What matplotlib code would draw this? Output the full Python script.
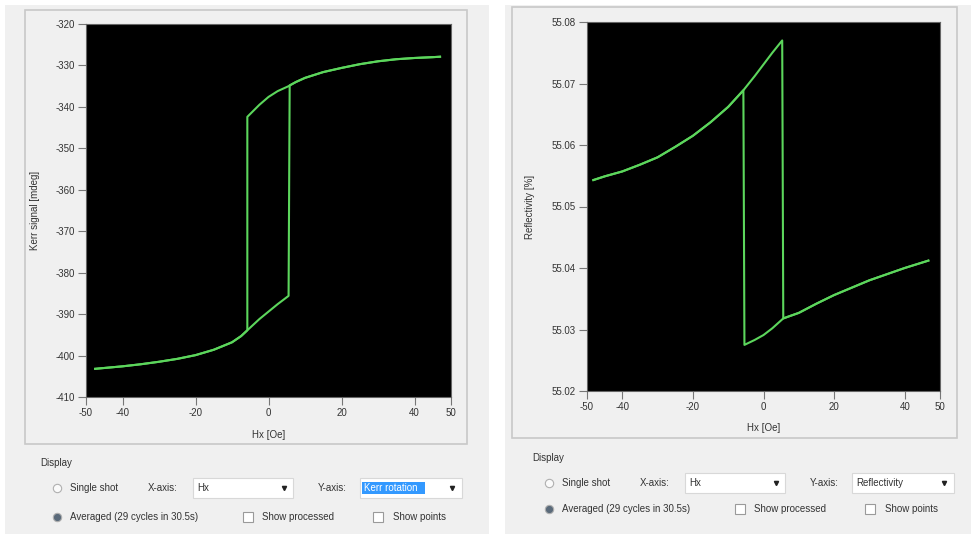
import numpy as np
import matplotlib.pyplot as plt
from matplotlib.patches import Rectangle

plt.rcParams['font.family'] = ['Liberation Sans', 'DejaVu Sans']
plt.rcParams['axes.unicode_minus'] = False

# Kerr loop, field going up then field going down
kerr_up_h = [-47.5, -45, -40, -35, -30, -25, -20, -15, -10, -7.5, -5.8, -2.5, 0, 2.5, 5.5,
             5.8, 7.5, 10, 15, 20, 25, 30, 35, 40, 45, 47.0]
kerr_up_val = [-403.2, -403.0, -402.6, -402.1, -401.5, -400.8, -399.9, -398.6, -396.8, -395.3,
               -393.9, -391.2, -389.4, -387.6, -385.6, -334.8, -334.0, -333.0, -331.6, -330.6,
               -329.7, -329.0, -328.5, -328.2, -328.0, -327.9]
kerr_down_h = [47.0, 45, 40, 35, 30, 25, 20, 15, 10, 7.5, 5.5, 2.5, 0, -2.5, -5.8,
               -5.8, -7.5, -10, -15, -20, -25, -30, -35, -40, -45, -47.5]
kerr_down_val = [-327.9, -328.0, -328.2, -328.5, -329.0, -329.7, -330.6, -331.6, -333.0, -334.0,
                 -335.0, -336.2, -337.6, -339.5, -342.4, -393.9, -395.3, -396.8, -398.6, -399.9,
                 -400.8, -401.5, -402.1, -402.6, -403.0, -403.2]

# reflectivity loop
refl_up_h = [-48.2, -45, -40, -35, -30, -25, -20, -15, -10, -5.7, -2.5, 0, 2.5, 5.3,
             5.6, 7.5, 10, 15, 20, 25, 30, 35, 40, 46.7]
refl_up_val = [55.0543, 55.0549, 55.0557, 55.0568, 55.0580, 55.0597, 55.0615, 55.0637, 55.0662,
               55.0689, 55.0712, 55.0731, 55.0750, 55.0770, 55.0318, 55.0322, 55.0327, 55.0342,
               55.0356, 55.0368, 55.0380, 55.0390, 55.0400, 55.0412]
refl_down_h = [46.7, 40, 35, 30, 25, 20, 15, 10, 5.6, 2.5, 0, -2.5, -5.4,
               -5.7, -10, -15, -20, -25, -30, -35, -40, -45, -48.2]
refl_down_val = [55.0412, 55.0400, 55.0390, 55.0380, 55.0368, 55.0356, 55.0342, 55.0327, 55.0318,
                 55.0302, 55.0291, 55.0283, 55.0275, 55.0689, 55.0662, 55.0637, 55.0615, 55.0597,
                 55.0580, 55.0568, 55.0557, 55.0549, 55.0543]

x_ticks = [-50, -40, -20, 0, 20, 40, 50]
kerr_ticks = list(range(-320, -411, -10))
refl_ticks = [55.02, 55.03, 55.04, 55.05, 55.06, 55.07, 55.08]

W, H = 971, 534
fig = plt.figure(figsize=(W / 100, H / 100), dpi=100, facecolor='white')

# background "window" drawn in pixel coordinates
bg = fig.add_axes([0, 0, 1, 1], zorder=0)
bg.set_xlim(0, W)
bg.set_ylim(H, 0)
bg.axis('off')

panel_col = '#f0f0f0'
bg.add_patch(Rectangle((5, 5), 484, 529, fc=panel_col, ec='none'))
bg.add_patch(Rectangle((505, 5), 466, 529, fc=panel_col, ec='none'))
bg.add_patch(Rectangle((25, 10), 442, 434, fill=False, ec='#c8c8c8', lw=1.2))
bg.add_patch(Rectangle((512, 7), 445, 431, fill=False, ec='#c8c8c8', lw=1.2))

txt = dict(fontsize=7, color='#333333', va='center')


def controls(ox, oy, gap, ysel, highlight):
    # ox, oy: offsets of the "Display" group, pixel coordinates
    bg.text(ox + 40, oy + 463, 'Display', **txt)
    r1, r2 = oy + 488, oy + 488 + gap
    bg.plot(ox + 57, r1, 'o', ms=6, mfc='#fafafa', mec='#b0b0b0', mew=0.8)
    bg.text(ox + 70, r1, 'Single shot', **txt)
    bg.text(ox + 148, r1, 'X-axis:', **txt)
    bg.add_patch(Rectangle((ox + 193, r1 - 10), 100, 20, fc='white', ec='#d8d8d8', lw=0.8))
    bg.text(ox + 197, r1, 'Hx', **txt)
    bg.plot(ox + 284, r1, 'v', ms=3, color='#222222')
    bg.text(ox + 318, r1, 'Y-axis:', **txt)
    bg.add_patch(Rectangle((ox + 360, r1 - 10), 102, 20, fc='white', ec='#d8d8d8', lw=0.8))
    if highlight:
        bg.add_patch(Rectangle((ox + 362, r1 - 6), 63, 12, fc='#3399ff', ec='none'))
        bg.text(ox + 364, r1, ysel, fontsize=7, color='white', va='center')
    else:
        bg.text(ox + 364, r1, ysel, **txt)
    bg.plot(ox + 452, r1, 'v', ms=3, color='#222222')

    bg.plot(ox + 57, r2, 'o', ms=6, mfc='#5a6a7a', mec='#b0b0b0', mew=0.8)
    bg.text(ox + 70, r2, 'Averaged (29 cycles in 30.5s)', **txt)
    bg.plot(ox + 248, r2, 's', ms=7, mfc='white', mec='#9a9a9a', mew=0.8)
    bg.text(ox + 262, r2, 'Show processed', **txt)
    bg.plot(ox + 378, r2, 's', ms=7, mfc='white', mec='#9a9a9a', mew=0.8)
    bg.text(ox + 393, r2, 'Show points', **txt)


controls(0, 0, 29, 'Kerr rotation', True)
controls(492, -5, 26, 'Reflectivity', False)

green = '#5cd65c'


def style(ax):
    ax.set_facecolor('black')
    for s in ax.spines.values():
        s.set_color('#666666')
        s.set_linewidth(0.8)
    ax.tick_params(length=6, width=0.8, color='#777777', labelsize=7,
                   labelcolor='#333333', pad=2)
    ax.set_xlim(-50, 50)
    ax.set_xticks(x_ticks)


# left plot: Kerr signal
ax1 = fig.add_axes([86 / W, 1 - 397 / H, 365 / W, 373 / H], zorder=1)
style(ax1)
ax1.plot(kerr_up_h, kerr_up_val, color=green, lw=1.5)
ax1.plot(kerr_down_h, kerr_down_val, color=green, lw=1.5)
ax1.set_ylim(-410, -320)
ax1.set_yticks(kerr_ticks)
ax1.set_xlabel('Hx [Oe]', fontsize=7, color='#333333')
ax1.set_ylabel('Kerr signal [mdeg]', fontsize=7, color='#333333')
ax1.xaxis.set_label_coords(0.5, -0.088)
ax1.yaxis.set_label_coords(-0.126, 0.5)

# right plot: reflectivity
ax2 = fig.add_axes([587 / W, 1 - 391 / H, 353 / W, 369 / H], zorder=1)
style(ax2)
ax2.plot(refl_up_h, refl_up_val, color=green, lw=1.5)
ax2.plot(refl_down_h, refl_down_val, color=green, lw=1.5)
ax2.set_ylim(55.02, 55.08)
ax2.set_yticks(refl_ticks)
ax2.set_yticklabels([f'{v:.2f}' for v in refl_ticks])
ax2.set_xlabel('Hx [Oe]', fontsize=7, color='#333333')
ax2.set_ylabel('Reflectivity [%]', fontsize=7, color='#333333')
ax2.xaxis.set_label_coords(0.5, -0.087)
ax2.yaxis.set_label_coords(-0.147, 0.5)

fig.savefig('out.png', dpi=100, facecolor='white')
